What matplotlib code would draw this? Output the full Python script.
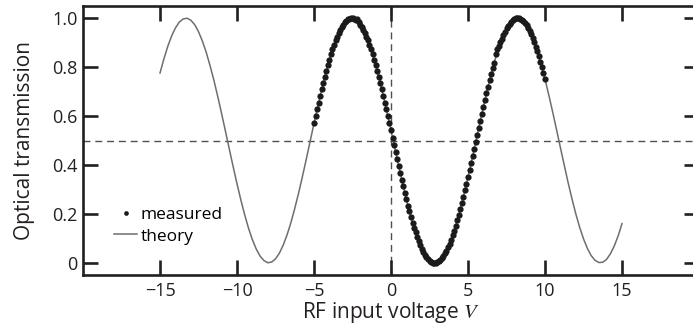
import numpy as np
import matplotlib
matplotlib.use("Agg")
import matplotlib.pyplot as plt

plt.rcParams["font.family"] = ["Open Sans", "DejaVu Sans"]
plt.rcParams["mathtext.fontset"] = "stix"

# measured points: voltage from -5.0 V to 10.0 V, one every 0.1 V
MEAS_V = np.round(np.arange(-5.0, 10.0001, 0.1), 2)
MEAS_T = [
    0.570, 0.599, 0.627, 0.655, 0.683, 0.709, 0.736, 0.761, 0.785, 0.809,
    0.831, 0.853, 0.873, 0.891, 0.909, 0.925, 0.940, 0.953, 0.964, 0.974,
    0.983, 0.990, 0.995, 0.998, 1.000, 1.000, 0.998, 0.992, 0.996, 0.985,
    0.972, 0.964, 0.953, 0.940, 0.925, 0.909, 0.891, 0.873, 0.853, 0.831,
    0.809, 0.785, 0.761, 0.736, 0.709, 0.683, 0.655, 0.627, 0.599, 0.570,
    0.541, 0.512, 0.482, 0.453, 0.424, 0.396, 0.367, 0.339, 0.312, 0.285,
    0.259, 0.234, 0.210, 0.187, 0.164, 0.143, 0.124, 0.105, 0.088, 0.072,
    0.058, 0.045, 0.033, 0.024, 0.016, 0.009, 0.005, 0.001, 0.000, 0.000,
    0.002, 0.006, 0.012, 0.019, 0.027, 0.038, 0.050, 0.063, 0.078, 0.094,
    0.112, 0.131, 0.152, 0.173, 0.196, 0.219, 0.244, 0.270, 0.296, 0.323,
    0.350, 0.379, 0.407, 0.436, 0.465, 0.494, 0.523, 0.552, 0.581, 0.610,
    0.638, 0.666, 0.693, 0.720, 0.746, 0.771, 0.795, 0.818, 0.852, 0.874,
    0.888, 0.902, 0.916, 0.931, 0.945, 0.958, 0.969, 0.978, 0.986, 0.992,
    0.996, 0.999, 1.000, 0.999, 0.997, 0.993, 0.987, 0.980, 0.971, 0.960,
    0.948, 0.934, 0.919, 0.902, 0.884, 0.865, 0.844, 0.822, 0.800, 0.776,
    0.751,
]

# theory curve: voltage from -15 V to 15 V, one every 0.25 V
THEORY_V = np.round(np.arange(-15.0, 15.0001, 0.25), 2)
THEORY_T = [
    0.776, 0.833, 0.884, 0.927, 0.960, 0.984, 0.997, 1.000, 0.992, 0.974,
    0.945, 0.907, 0.861, 0.806, 0.746, 0.680, 0.610, 0.538, 0.465, 0.393,
    0.323, 0.257, 0.196, 0.141, 0.094, 0.056, 0.027, 0.009, 0.000, 0.003,
    0.016, 0.039, 0.072, 0.114, 0.164, 0.222, 0.285, 0.353, 0.424, 0.497,
    0.570, 0.641, 0.709, 0.773, 0.831, 0.882, 0.925, 0.959, 0.983, 0.997,
    1.000, 0.992, 0.974, 0.946, 0.909, 0.863, 0.809, 0.748, 0.683, 0.613,
    0.541, 0.468, 0.396, 0.326, 0.259, 0.198, 0.143, 0.096, 0.058, 0.028,
    0.009, 0.001, 0.002, 0.015, 0.038, 0.070, 0.112, 0.162, 0.219, 0.283,
    0.350, 0.421, 0.494, 0.567, 0.638, 0.707, 0.771, 0.829, 0.880, 0.923,
    0.958, 0.982, 0.996, 1.000, 0.993, 0.975, 0.948, 0.911, 0.865, 0.811,
    0.751, 0.685, 0.616, 0.544, 0.471, 0.399, 0.328, 0.262, 0.200, 0.145,
    0.098, 0.059, 0.029, 0.010, 0.001, 0.002, 0.014, 0.037, 0.069, 0.110,
    0.160,
]

X_TICKS = [-15, -10, -5, 0, 5, 10, 15]
X_LABELS = ["\u221215", "\u221210", "\u22125", "0", "5", "10", "15"]
Y_TICKS = [0, 0.2, 0.4, 0.6, 0.8, 1.0]
Y_LABELS = ["0", "0.2", "0.4", "0.6", "0.8", "1.0"]

INK = "#231f20"

fig = plt.figure(figsize=(6.93, 3.31), dpi=100)
# right spine falls just outside the picture, as in the original crop
ax = fig.add_axes([83 / 693, 1 - 275 / 331, 616 / 693, 269 / 331])

ax.axhline(0.5, color="#505050", lw=1.0, ls=(0, (5, 3.5)), zorder=1)
ax.axvline(0, color="#505050", lw=1.0, ls=(0, (5, 3.5)), zorder=1)

ax.plot(THEORY_V, THEORY_T, color="#6e6e6e", lw=1.1, zorder=2, label="theory")
ax.plot(MEAS_V, MEAS_T, "o", color="#1b1b1b", ms=4.5, mew=0, zorder=3,
        label="measured")

ax.set_xlim(-20, 20)
ax.set_ylim(-0.05, 1.05)
ax.set_xticks(X_TICKS)
ax.set_xticklabels(X_LABELS)
ax.set_yticks(Y_TICKS)
ax.set_yticklabels(Y_LABELS)

for s in ax.spines.values():
    s.set_linewidth(1.9)
    s.set_color(INK)
ax.tick_params(direction="in", length=11, width=1.9, color=INK,
               top=True, right=True, labelsize=13, labelcolor=INK)
ax.tick_params(axis="y", pad=4)
ax.tick_params(axis="x", pad=5)

ax.set_xlabel("RF input voltage $V$", fontsize=15, color=INK, labelpad=0)
ax.set_ylabel("Optical transmission", fontsize=15, color=INK, labelpad=12)

h, l = ax.get_legend_handles_labels()
ax.legend(h[::-1], l[::-1], loc="upper left",
          bbox_to_anchor=(114 / 693, 1 - 207 / 331),
          bbox_transform=fig.transFigure, frameon=False, fontsize=12.5,
          handlelength=1.35, handletextpad=0.2, labelspacing=0.3,
          borderpad=0, borderaxespad=0, numpoints=1, markerscale=0.75)

fig.savefig("out.png", dpi=100)
